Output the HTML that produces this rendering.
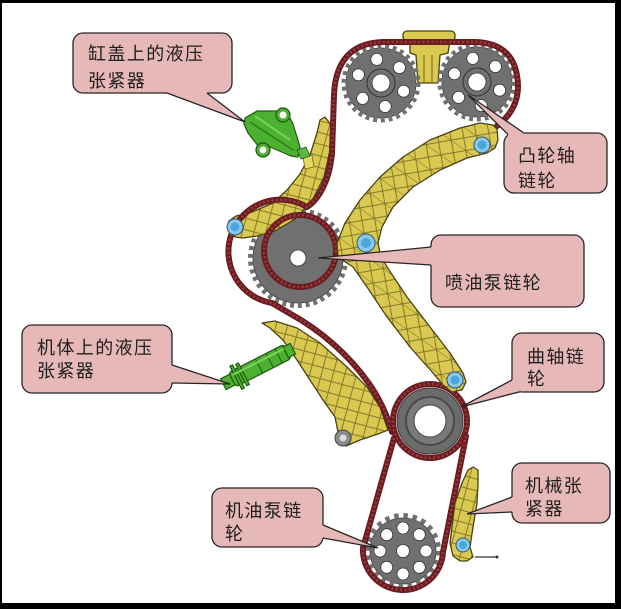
<!DOCTYPE html>
<html><head><meta charset="utf-8">
<style>
html,body{margin:0;padding:0;background:#000;}
body{width:621px;height:609px;overflow:hidden;position:relative;}
svg{position:absolute;left:0;top:0;display:block;}
.t{font-family:"Liberation Sans","Noto Sans CJK SC","WenQuanYi Zen Hei",sans-serif;font-size:18px;letter-spacing:1.4px;fill:#1e1e1e;}
.ch{fill:none;stroke:#6a1c20;stroke-width:6;stroke-linecap:round;stroke-linejoin:round;}
.cl{fill:none;stroke:#993a3e;stroke-width:2.6;stroke-dasharray:2 2.4;stroke-linecap:butt;}
.gear{fill:#707070;stroke:#3c3c3c;stroke-width:0.8;}
.teeth{fill:none;stroke:#707070;stroke-width:5;}
.hole{fill:#fff;stroke:#333;stroke-width:0.8;}
.yel{stroke:#4a4214;stroke-width:1.3;stroke-linejoin:round;}
.grn{fill:#4cb030;stroke:#1e5a10;stroke-width:1.2;stroke-linejoin:round;}
.box{fill:#e6b8b7;stroke:#262626;stroke-width:1.3;}
.wf{fill:#e6b8b7;stroke:none;}
.ws{fill:none;stroke:#262626;stroke-width:1.3;stroke-linejoin:miter;}
</style></head><body>
<svg width="621" height="609" viewBox="0 0 621 609" xmlns="http://www.w3.org/2000/svg">
<defs>
<pattern id="lat" width="18" height="18" patternUnits="userSpaceOnUse" patternTransform="rotate(35)">
<rect width="18" height="18" fill="#d9c950"/>
<path d="M0,0 L18,18 M18,0 L0,18 M0,0 H18" stroke="#7d6f26" stroke-width="0.9" fill="none"/>
</pattern>
<pattern id="lat2" width="16" height="16" patternUnits="userSpaceOnUse" patternTransform="rotate(-30)">
<rect width="16" height="16" fill="#d9c950"/>
<path d="M0,0 L16,16 M16,0 L0,16" stroke="#7d6f26" stroke-width="0.9" fill="none"/>
</pattern>
</defs>

<rect x="0" y="0" width="621" height="609" fill="#000"/>
<rect x="2" y="3" width="613" height="600" fill="#fff"/>

<!-- top yellow piece -->
<rect x="403" y="31" width="52" height="10" rx="4" fill="#d9c950" class="yel"/>
<polygon points="410,41 450,41 448,53 440,55 438,83 418,83 416,55 410,53" fill="#d9c950" class="yel"/>
<path d="M424,55 V82 M432,55 V82" stroke="#6e6220" stroke-width="1"/>

<!-- cam gears -->
<circle cx="381" cy="83" r="35" class="gear"/>
<circle cx="381" cy="83" r="37" class="teeth" stroke-dasharray="3.9 3.85"/>
<circle cx="381" cy="83" r="14" fill="none" stroke="#333" stroke-width="1"/>
<circle cx="381" cy="83" r="9" class="hole"/>
<circle cx="376.8" cy="59.4" r="6" class="hole"/>
<circle cx="399.4" cy="67.6" r="6" class="hole"/>
<circle cx="403.6" cy="91.2" r="6" class="hole"/>
<circle cx="385.2" cy="106.6" r="6" class="hole"/>
<circle cx="362.6" cy="98.4" r="6" class="hole"/>
<circle cx="358.4" cy="74.8" r="6" class="hole"/>

<circle cx="477" cy="82" r="35" class="gear"/>
<circle cx="477" cy="82" r="37" class="teeth" stroke-dasharray="3.9 3.85"/>
<circle cx="477" cy="82" r="14" fill="none" stroke="#333" stroke-width="1"/>
<circle cx="477" cy="82" r="9" class="hole"/>
<circle cx="472.8" cy="58.4" r="6" class="hole"/>
<circle cx="495.4" cy="66.6" r="6" class="hole"/>
<circle cx="499.6" cy="90.2" r="6" class="hole"/>
<circle cx="481.2" cy="105.6" r="6" class="hole"/>
<circle cx="458.6" cy="97.4" r="6" class="hole"/>
<circle cx="454.4" cy="73.8" r="6" class="hole"/>

<!-- injection pump sprocket -->
<circle cx="298" cy="258" r="45" class="gear"/>
<circle cx="298" cy="258" r="47.5" class="teeth" stroke-dasharray="4 3.85"/>
<circle cx="298" cy="258" r="8" class="hole"/>

<!-- crank sprocket -->
<circle cx="430" cy="421" r="33" fill="#6b6b6b" stroke="#3a3a3a" stroke-width="1"/>
<circle cx="430" cy="421" r="24" fill="#7a7a7a" stroke="#4a4a4a" stroke-width="2"/>
<circle cx="430" cy="421" r="16" fill="#fff" stroke="#444" stroke-width="1"/>

<!-- oil pump sprocket -->
<circle cx="403" cy="551" r="33" class="gear"/>
<circle cx="403" cy="551" r="35.5" class="teeth" stroke-dasharray="4.5 4.8"/>
<circle cx="403" cy="551" r="6.5" class="hole"/>
<circle cx="426" cy="551" r="6" class="hole"/>
<circle cx="419.3" cy="567.3" r="6" class="hole"/>
<circle cx="403" cy="574" r="6" class="hole"/>
<circle cx="386.7" cy="567.3" r="6" class="hole"/>
<circle cx="380" cy="551" r="6" class="hole"/>
<circle cx="386.7" cy="534.7" r="6" class="hole"/>
<circle cx="403" cy="528" r="6" class="hole"/>
<circle cx="419.3" cy="534.7" r="6" class="hole"/>

<!-- upper-left guide -->
<polygon points="325,117 331,125 330,150 324,177 312,201 295,219 275,231 257,236 243,238 235,237 228,230 229,221 236,216 252,212 273,203 287,190 300,174 310,155 317,133 320,120" fill="url(#lat2)" class="yel"/>
<polygon points="303,157 312,155 314,167 305,169" fill="#e8d860" stroke="#6e6220" stroke-width="0.8"/>

<!-- lower-left guide -->
<polygon points="262,323 275,321 297,328 320,343 347,367 367,387 380,407 388,430 378,434 360,440 346,446 336,440 338,432 335,417 323,400 310,380 297,360 283,340 270,328" fill="url(#lat2)" class="yel"/>
<circle cx="343" cy="438" r="8" fill="#8a8a8a" stroke="#444" stroke-width="1"/>
<circle cx="343" cy="438" r="3.5" fill="#ddd"/>

<!-- chains -->
<path class="ch" d="M497,126 Q518,110 518,86 Q517,43 475,42 L382,42 Q336,44 334,95 L332,153 Q330,172 325,183 Q318,200 307,207 A52 52 0 1 0 272,303 L289,313 C320,330 350,355 372,388 Q385,408 392,432"/>
<path class="cl" d="M497,126 Q518,110 518,86 Q517,43 475,42 L382,42 Q336,44 334,95 L332,153 Q330,172 325,183 Q318,200 307,207 A52 52 0 1 0 272,303 L289,313 C320,330 350,355 372,388 Q385,408 392,432"/>
<circle class="ch" cx="300" cy="251" r="36"/>
<circle class="cl" cx="300" cy="251" r="36"/>
<circle class="ch" cx="430" cy="421" r="37"/>
<circle class="cl" cx="430" cy="421" r="37"/>
<path class="ch" d="M394,438 L363,548 A40 40 0 0 0 443,552 L466,436"/>
<path class="cl" d="M394,438 L363,548 A40 40 0 0 0 443,552 L466,436"/>

<!-- big guide -->
<polygon points="493,125 480,123 460,128 430,140 403,157 380,177 360,200 345,223 337,243 338,257 353,267 367,287 387,317 410,347 433,373 443,385 452,392 462,390 466,382 463,373 450,353 430,327 407,297 387,267 380,253 378,243 382,227 393,207 413,187 440,170 467,158 487,153 495,148 498,140 497,129" fill="url(#lat)" class="yel"/>

<!-- mechanical tensioner -->
<polygon points="473,467 478,470 478,483 477,503 473,527 470,547 473,557 467,561 460,561 453,556 450,543 452,527 455,503 462,483 468,470" fill="url(#lat2)" class="yel"/>
<path d="M475,557 H497" stroke="#333" stroke-width="1.2"/>
<circle cx="497" cy="557" r="1.5" fill="#333"/>

<!-- upper green tensioner -->
<polygon points="245,118 257,111 277,111 288,114 293,124 300,147 298,157 291,156 270,147 259,147 248,133 244,124" class="grn"/>
<path d="M250,122 L293,150" stroke="#2a7018" stroke-width="1.2"/>
<path d="M255,116 L290,140" stroke="#7ad45a" stroke-width="2"/>
<circle cx="283" cy="115" r="7" class="grn"/>
<circle cx="283" cy="115" r="3.5" fill="#fff"/>
<circle cx="263" cy="150" r="7" class="grn"/>
<circle cx="263" cy="150" r="3.5" fill="#fff"/>
<polygon points="297,150 306,147 310,156 301,159" fill="#5cb840" stroke="#1e5a10" stroke-width="0.8"/>

<!-- lower green tensioner -->
<g transform="translate(259,366) rotate(-27)">
<rect x="-40" y="-6" width="12" height="12" class="grn"/>
<rect x="-30" y="-8" width="62" height="16" rx="3" class="grn"/>
<rect x="30" y="-6" width="8" height="12" class="grn"/>
<rect x="-26" y="-13" width="3" height="26" class="grn"/>
<rect x="-20" y="-12" width="3" height="24" class="grn"/>
<path d="M0,-8 V8 M12,-8 V8 M22,-8 V8" stroke="#1e5a10" stroke-width="1"/>
<path d="M-28,-4 H30" stroke="#7ad45a" stroke-width="2"/>
</g>

<!-- blue bolts -->
<g fill="#8cc8ec" stroke="#2a5a80" stroke-width="1">
<circle cx="235" cy="227" r="8"/>
<circle cx="482" cy="145" r="8"/>
<circle cx="366" cy="243" r="9"/>
<circle cx="455" cy="380" r="8"/>
<circle cx="463" cy="545" r="7"/>
</g>
<g fill="#4aa6dc">
<circle cx="235" cy="227" r="4.5"/>
<circle cx="482" cy="145" r="4.5"/>
<circle cx="366" cy="243" r="5"/>
<circle cx="455" cy="380" r="4.5"/>
<circle cx="463" cy="545" r="4"/>
</g>

<!-- callouts -->
<rect x="73" y="33" width="159" height="60" rx="10" class="box"/>
<polygon class="wf" points="245,122 167,93 167,89 207,89 207,93"/>
<polyline class="ws" points="167,93 245,122 207,93"/>
<text class="t" x="88" y="60">缸盖上的液压</text>
<text class="t" x="88" y="87">张紧器</text>

<rect x="504" y="133" width="103" height="60" rx="10" class="box"/>
<polygon class="wf" points="468,95 508,134 508,138 524,138 524,133"/>
<polyline class="ws" points="508,134.5 468,95 524,133"/>
<text class="t" x="518" y="162">凸轮轴</text>
<text class="t" x="518" y="187">链轮</text>

<rect x="431" y="235" width="153" height="72" rx="10" class="box"/>
<polygon class="wf" points="318,258 431,247 435,247 435,265 431,265"/>
<polyline class="ws" points="431,247 318,258 431,265"/>
<text class="t" x="445" y="289">喷油泵链轮</text>

<rect x="512" y="333" width="92" height="59" rx="10" class="box"/>
<polygon class="wf" points="461,407 512,380 516,378 524,389 521,392"/>
<polyline class="ws" points="512,380 461,407 521,391.5"/>
<text class="t" x="527" y="363">曲轴链</text>
<text class="t" x="527" y="385">轮</text>

<rect x="22" y="325" width="150" height="68" rx="10" class="box"/>
<polygon class="wf" points="230,384 172,365 168,365 168,383 172,383"/>
<polyline class="ws" points="172,365 230,384 172,383"/>
<text class="t" x="37" y="354">机体上的液压</text>
<text class="t" x="37" y="377">张紧器</text>

<rect x="212" y="488" width="111" height="59" rx="10" class="box"/>
<polygon class="wf" points="378,548 323,525 319,525 319,538 323,538"/>
<polyline class="ws" points="323,525 378,548 323,538"/>
<text class="t" x="225" y="517">机油泵链</text>
<text class="t" x="225" y="540">轮</text>

<rect x="512" y="463" width="98" height="60" rx="10" class="box"/>
<polygon class="wf" points="467,514 512,497 516,497 516,512 512,512"/>
<polyline class="ws" points="512,497 467,514 512,512"/>
<text class="t" x="525" y="492">机械张</text>
<text class="t" x="525" y="515">紧器</text>
</svg>
</body></html>
